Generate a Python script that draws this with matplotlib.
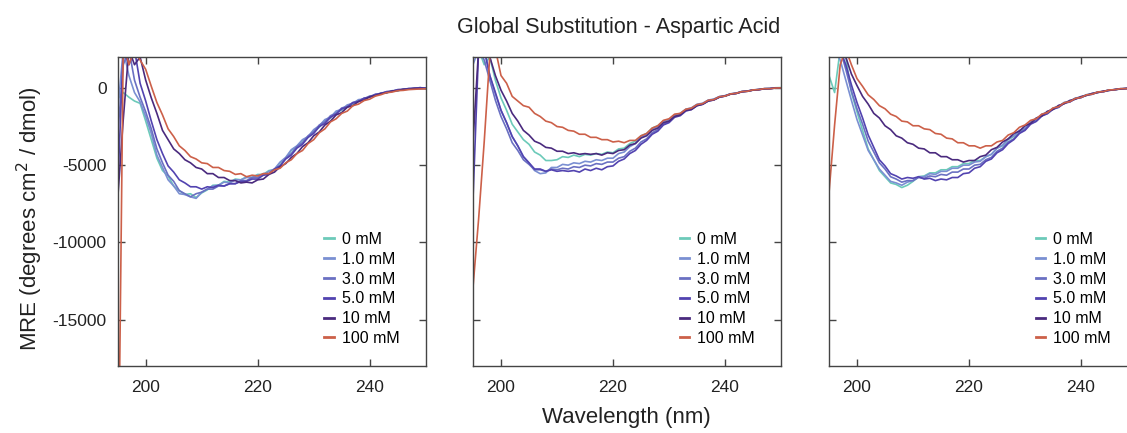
import numpy as np
import matplotlib
matplotlib.use("Agg")
import matplotlib.pyplot as plt

plt.rcParams['font.family'] = ['Liberation Sans', 'DejaVu Sans']
plt.rcParams['axes.unicode_minus'] = False

wavelength = list(range(195, 251))
labels = ['0 mM', '1.0 mM', '3.0 mM', '5.0 mM', '10 mM', '100 mM']
colors = ['#6ccab9', '#7a8fd2', '#6a70c2', '#5243b0', '#4a2a7e', '#cc6049']

# panel 1
p1_0 = [-700, -300, -600, -850, -1000, -2150, -3350, -4550, -5350, -5700, -6350, -6650, -6900, -6850, -7100, -6800,
        -6600, -6300, -6300, -6050, -6100, -5900, -5950, -5750, -5800, -5600, -5600, -5350, -5300, -4850, -4550, -4050,
        -3800, -3400, -3200, -2800, -2550, -2100, -1950, -1550, -1450, -1150, -1050, -800, -740, -560, -480, -360,
        -320, -200, -190, -90, -60, -70, 10, -60]
p1_1 = [-1500, 2500, 800, -300, -900, -1850, -2950, -4350, -5150, -5950, -6350, -6850, -6900, -7050, -7150, -6750,
        -6550, -6350, -6300, -6100, -6150, -5950, -5950, -5800, -5800, -5650, -5650, -5400, -5250, -4800, -4500, -4000,
        -3750, -3350, -3150, -2700, -2450, -2050, -1900, -1500, -1400, -1100, -1000, -760, -720, -520, -480, -320,
        -300, -180, -170, -100, -80, -10, -60, 0]
p1_3 = [-3000, 1500, 2500, 500, -600, -1550, -2650, -3950, -4850, -5650, -6050, -6650, -6850, -7050, -6850, -6750,
        -6550, -6550, -6350, -6350, -6200, -6200, -6000, -6000, -5800, -5800, -5550, -5550, -5250, -5050, -4550, -4250,
        -3800, -3550, -3100, -2850, -2400, -2200, -1800, -1650, -1300, -1200, -940, -860, -660, -590, -410, -370,
        -240, -220, -110, -100, -30, -30, 20, -30]
p1_5 = [-6500, 2500, 1500, 2500, 300, -850, -2150, -3350, -4250, -5050, -5450, -5950, -6150, -6400, -6400, -6550,
        -6400, -6450, -6300, -6350, -6200, -6200, -6050, -6050, -5900, -5900, -5650, -5600, -5250, -5050, -4600, -4350,
        -3900, -3650, -3200, -2950, -2500, -2300, -1900, -1700, -1350, -1250, -960, -880, -670, -600, -430, -370,
        -250, -220, -120, -100, -50, -30, 10, -20]
p1_10 = [-7200, -2000, 2500, 1500, 2000, 500, -650, -1650, -2750, -3350, -3950, -4250, -4650, -4850, -5150, -5250,
         -5550, -5550, -5800, -5800, -6000, -6000, -6150, -6100, -6150, -5950, -5900, -5600, -5450, -5100, -4900, -4500,
         -4250, -3800, -3550, -3100, -2850, -2400, -2150, -1750, -1600, -1250, -1150, -880, -790, -570, -500, -360,
         -320, -200, -170, -90, -80, -30, -30, -40]
p1_100 = [-30000, 3000, 1500, 2500, 1800, 1200, 100, -950, -1750, -2650, -3150, -3750, -4050, -4450, -4600, -4850,
          -4900, -5150, -5150, -5350, -5400, -5600, -5550, -5750, -5650, -5700, -5550, -5550, -5300, -5200, -4850, -4650,
          -4250, -4050, -3600, -3350, -2900, -2650, -2200, -2000, -1650, -1500, -1150, -1050, -820, -730, -530, -440,
          -310, -270, -180, -160, -110, -90, -70, -60]

# panel 2
p2_0 = [2500, 2500, 1500, 2000, 500, -650, -1450, -2350, -2850, -3350, -3650, -4150, -4350, -4700, -4700, -4650,
        -4450, -4500, -4350, -4450, -4300, -4350, -4250, -4300, -4150, -4200, -3950, -3900, -3600, -3450, -3100, -2950,
        -2600, -2450, -2150, -2050, -1800, -1700, -1400, -1350, -1100, -1050, -810, -750, -570, -520, -400, -350,
        -240, -210, -140, -110, -50, -40, 10, 20]
p2_1 = [1500, 2500, 2500, 800, -400, -1450, -2250, -3150, -3750, -4450, -4850, -5350, -5550, -5500, -5150, -5150,
        -4950, -5000, -4850, -4900, -4750, -4800, -4650, -4700, -4550, -4550, -4250, -4150, -3800, -3600, -3200, -3000,
        -2650, -2500, -2150, -2050, -1750, -1650, -1380, -1290, -1060, -990, -790, -720, -560, -500, -380, -340,
        -230, -200, -130, -100, -50, -40, 0, 0]
p2_3 = [2500, 2500, 1800, 500, -800, -1850, -2650, -3550, -4050, -4650, -4950, -5300, -5300, -5400, -5250, -5300,
        -5200, -5250, -5100, -5150, -5000, -5050, -4900, -4950, -4800, -4800, -4550, -4450, -4100, -3900, -3500, -3300,
        -2900, -2700, -2350, -2200, -1850, -1750, -1450, -1350, -1100, -1050, -820, -760, -580, -520, -390, -350,
        -240, -210, -140, -110, -50, -50, 0, 0]
p2_5 = [-7200, 2500, 2500, 800, -300, -1450, -2250, -3150, -3750, -4450, -4850, -5250, -5250, -5400, -5300, -5400,
        -5350, -5400, -5350, -5450, -5250, -5350, -5200, -5300, -5100, -5050, -4750, -4600, -4250, -4050, -3650, -3400,
        -3000, -2800, -2400, -2250, -1900, -1800, -1500, -1400, -1150, -1060, -850, -780, -600, -530, -400, -360,
        -250, -210, -140, -110, -60, -50, -10, 0]
p2_10 = [-3500, 2500, 2500, 2000, 800, -150, -850, -1650, -2150, -2750, -3050, -3450, -3600, -3850, -3900, -4100,
         -4100, -4250, -4200, -4300, -4250, -4300, -4250, -4350, -4200, -4250, -4050, -4000, -3700, -3600, -3250, -3100,
         -2750, -2600, -2250, -2150, -1850, -1750, -1450, -1400, -1150, -1060, -850, -780, -600, -530, -400, -360,
         -250, -220, -140, -120, -60, -50, -10, -10]
p2_100 = [-12900, -8500, -3500, 2100, 2500, 800, 300, -550, -850, -1150, -1250, -1650, -1850, -2150, -2250, -2500,
          -2550, -2750, -2800, -3000, -3000, -3200, -3200, -3350, -3350, -3500, -3450, -3550, -3400, -3400, -3100, -2950,
          -2600, -2450, -2100, -2000, -1700, -1650, -1380, -1310, -1080, -1020, -800, -760, -570, -530, -390, -350,
          -240, -220, -130, -110, -50, -50, -10, 0]

# panel 3
p3_0 = [800, -300, 2500, 2000, -300, -1550, -2750, -3950, -4650, -5350, -5750, -6150, -6250, -6450, -6300, -6050,
        -5750, -5700, -5500, -5500, -5300, -5300, -5100, -5100, -4900, -4900, -4700, -4700, -4450, -4300, -3900, -3750,
        -3350, -3150, -2800, -2650, -2250, -2100, -1750, -1620, -1340, -1220, -960, -880, -670, -600, -450, -390,
        -270, -240, -140, -120, -60, -50, -10, 0]
p3_1 = [2500, 2500, 1800, 500, -800, -2050, -3050, -4050, -4650, -5250, -5650, -6050, -6150, -6300, -6100, -6000,
        -5750, -5750, -5550, -5600, -5400, -5400, -5200, -5200, -5000, -5000, -4800, -4750, -4450, -4300, -3900, -3700,
        -3300, -3100, -2750, -2600, -2200, -2050, -1700, -1590, -1310, -1190, -940, -860, -660, -590, -440, -380,
        -260, -230, -130, -120, -50, -40, 0, 0]
p3_3 = [2500, 2500, 2500, 1200, -200, -1350, -2350, -3450, -4150, -4850, -5250, -5750, -5900, -6100, -6000, -6000,
        -5800, -5850, -5700, -5750, -5600, -5650, -5450, -5450, -5250, -5250, -5000, -4950, -4650, -4500, -4100, -3900,
        -3500, -3300, -2900, -2700, -2300, -2150, -1800, -1650, -1360, -1240, -980, -900, -690, -620, -460, -400,
        -270, -240, -140, -120, -60, -50, -10, 0]
p3_5 = [2500, 2500, 2500, 1500, 200, -950, -1950, -3050, -3850, -4650, -5050, -5550, -5700, -5900, -5800, -5850,
        -5750, -5900, -5850, -6000, -5900, -5950, -5800, -5800, -5550, -5500, -5200, -5100, -4750, -4600, -4200, -4000,
        -3600, -3350, -2950, -2750, -2350, -2170, -1820, -1670, -1380, -1260, -990, -910, -700, -630, -470, -410,
        -280, -250, -150, -120, -60, -50, -10, 0]
p3_10 = [2500, 2500, 2500, 2000, 900, 150, -550, -1050, -1650, -1950, -2450, -2700, -3100, -3250, -3550, -3650,
         -3900, -3950, -4200, -4200, -4450, -4450, -4650, -4650, -4800, -4700, -4700, -4450, -4350, -4000, -3850, -3500,
         -3300, -2950, -2800, -2450, -2300, -1950, -1820, -1510, -1400, -1130, -1030, -810, -730, -560, -490, -350,
         -310, -200, -170, -100, -80, -30, -30, 0]
p3_100 = [-6800, -2400, 1500, 2500, 1500, 600, 100, -450, -750, -1150, -1350, -1700, -1850, -2150, -2200, -2450,
          -2450, -2650, -2700, -2950, -3000, -3250, -3300, -3550, -3550, -3750, -3750, -3900, -3750, -3750, -3500, -3400,
          -3050, -2900, -2550, -2400, -2100, -2000, -1700, -1600, -1300, -1220, -960, -890, -680, -620, -450, -410,
          -260, -240, -130, -120, -50, -50, -10, 0]

panels = [
    [p1_0, p1_1, p1_3, p1_5, p1_10, p1_100],
    [p2_0, p2_1, p2_3, p2_5, p2_10, p2_100],
    [p3_0, p3_1, p3_3, p3_5, p3_10, p3_100],
]

fig = plt.figure(figsize=(11.27, 4.33), dpi=100)
lefts = [117.7, 473, 829]
for i, series in enumerate(panels):
    ax = fig.add_axes([lefts[i] / 1127, 67 / 433, 308 / 1127, 309 / 433])
    for vals, lab, col in zip(series, labels, colors):
        ax.plot(wavelength, vals, color=col, lw=1.2, label=lab)
    ax.set_xlim(195, 250)
    ax.set_ylim(-18000, 2000)
    ax.set_xticks([200, 220, 240])
    ax.set_yticks([0, -5000, -10000, -15000])
    ax.tick_params(direction='in', length=5, width=1, color='#444444', labelcolor='#222222',
                   top=True, right=True, labelsize=12.5, pad=8)
    ax.tick_params(axis='x', pad=10)
    if i > 0:
        ax.set_yticklabels([])
    for s in ax.spines.values():
        s.set_color('#444444')
        s.set_linewidth(1)
    leg = ax.legend(loc='lower right', bbox_to_anchor=(0.915, 0.065), frameon=False,
                    fontsize=11.5, handlelength=0.6, handletextpad=0.5, labelspacing=0.3,
                    borderpad=0, borderaxespad=0)
    for h in leg.get_lines():
        h.set_linewidth(2)

fig.text(0.549, 0.9376, 'Global Substitution - Aspartic Acid', ha='center', va='center', fontsize=15.5, color='#222222')
fig.text(0.556, 0.035, 'Wavelength (nm)', ha='center', va='center', fontsize=16, color='#222222')
fig.text(30 / 1127, 0.494, 'MRE (degrees cm$^2$ / dmol)', ha='center', va='center',
         rotation=90, fontsize=16, color='#222222')

fig.savefig('out.png', dpi=100)
